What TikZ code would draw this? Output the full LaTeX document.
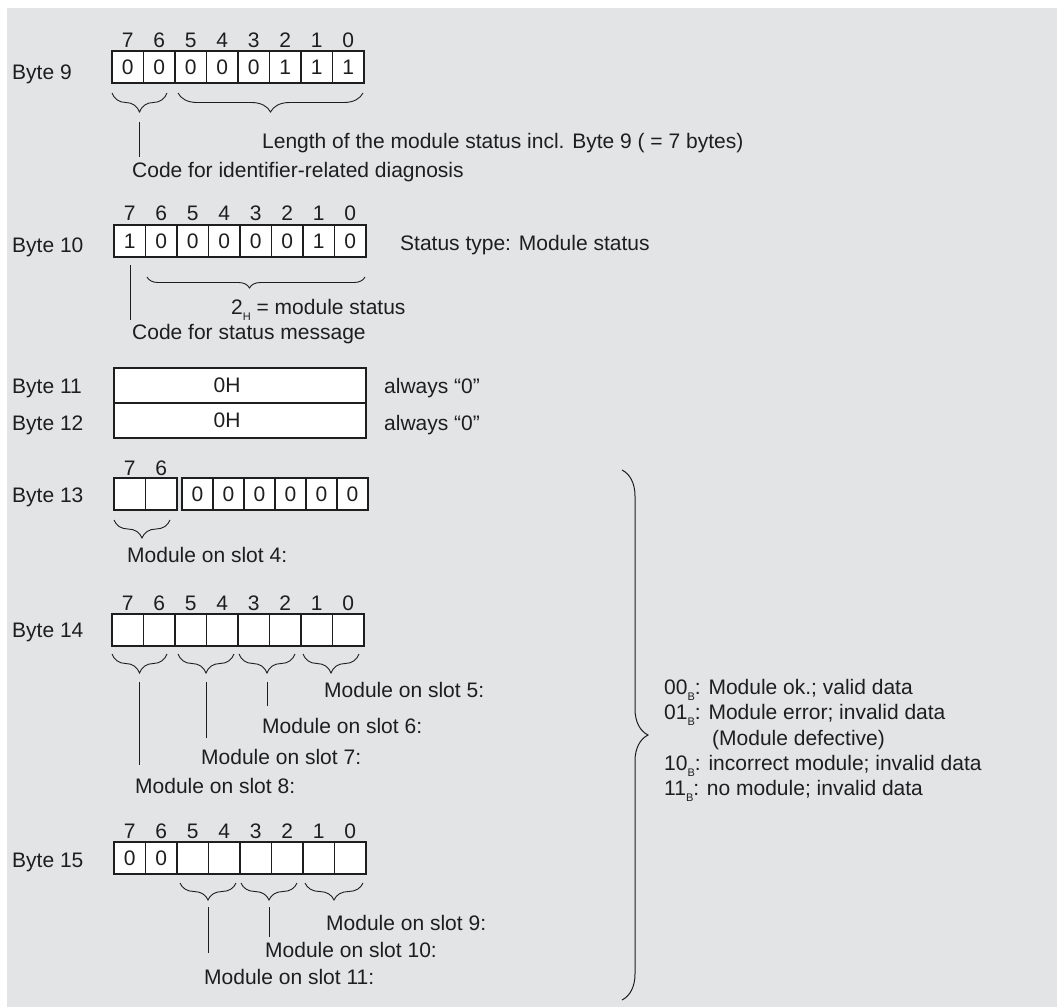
\documentclass[tikz,border=0pt]{standalone}
\usepackage{fontspec}
\setmainfont{Liberation Sans}
\usetikzlibrary{decorations.pathreplacing}
\definecolor{bg}{RGB}{227,228,230}
\definecolor{ink}{RGB}{30,30,30}
\newcommand\sbs[1]{\raisebox{-6pt}{\fontsize{11}{11}\selectfont #1}}
\tikzset{
  cell/.style={draw=ink, line width=1.2pt, fill=white, minimum width=31.5pt, minimum height=32pt, inner sep=0pt, outer sep=0pt, text=ink},
  cellb/.style={cell, minimum width=31pt},
  wide/.style={draw=ink, line width=1.2pt, fill=white, minimum width=252pt, minimum height=35pt, inner sep=0pt, outer sep=0pt},
  bitnum/.style={inner sep=0pt, text=ink},
  lbl/.style={anchor=base west, inner sep=0pt, text=ink},
  brc/.style={draw=ink, line width=0.9pt, decorate, decoration={brace, mirror, amplitude=#1}},
  lead/.style={draw=ink, line width=1pt}
}
\begin{document}
\begin{tikzpicture}[x=1pt, y=-1pt, font=\fontsize{21}{25}\selectfont]
\fill[white] (0,0) rectangle (1057,1007);
\fill[bg] (7,8) rectangle (1057,1007);
\useasboundingbox (0,0) rectangle (1057,1007);

% ---------- Byte 9
\node[lbl] (l9) at (12,79) {Byte 9};
\foreach \b [count=\i from 0] in {7,6,5,4,3,2,1,0}
  \node[bitnum] (n9\i) at ({112+31.5*\i+15.75},40) {\b};
\foreach \v [count=\i from 0] in {0,0,0,0,0,1,1,1}
  \node[cell] (c9\i) at ({112+31.5*\i+15.75},67) {\v};
\draw[brc=19] (112,93) -- (167,93);
\draw[brc=19] (178,93) -- (363,93);
\coordinate (t9a) at (139,122);
\coordinate (e9a) at (139,157);
\draw[lead] (t9a) -- (e9a);
\node[lbl] (len) at (262,148.5) {Length of the module status incl. Byte 9 ( = 7 bytes)};
\node[lbl] (cid) at (132,177) {Code for identifier-related diagnosis};

% ---------- Byte 10
\node[lbl] (l10) at (12,252) {Byte 10};
\foreach \b [count=\i from 0] in {7,6,5,4,3,2,1,0}
  \node[bitnum] (n10\i) at ({114+31.5*\i+15.75},213) {\b};
\foreach \v [count=\i from 0] in {1,0,0,0,0,0,1,0}
  \node[cell] (c10\i) at ({114+31.5*\i+15.75},241) {\v};
\node[lbl] (stt) at (400,250) {Status type: Module status};
\draw[draw=ink, line width=0.9pt, decorate, decoration={brace, mirror, amplitude=11, aspect=0.47}] (147,277) -- (365,277);
\coordinate (t10a) at (130,265);
\coordinate (e10a) at (130,320);
\draw[lead] (t10a) -- (e10a);
\node[lbl] (two) at (231,314) {2\sbs{H} = module status};
\node[lbl] (csm) at (132,339) {Code for status message};

% ---------- Byte 11 / 12
\node[lbl] (l11) at (12,393.5) {Byte 11};
\node[wide] (w11) at (240,385.5) {};
\node[bitnum] (h11) at (227,385.5) {0H};
\node[lbl] (a11) at (384,393.5) {always “0”};
\node[lbl] (l12) at (12,430) {Byte 12};
\node[wide] (w12) at (240,420.5) {};
\node[bitnum] (h12) at (227,420.5) {0H};
\node[lbl] (a12) at (384,430) {always “0”};

% ---------- Byte 13
\node[lbl] (l13) at (12,502) {Byte 13};
\foreach \b [count=\i from 0] in {7,6}
  \node[bitnum] (n13\i) at ({114+31.5*\i+15.75},468) {\b};
\foreach \i in {0,1}
  \node[cell] (c13\i) at ({114+31.5*\i+15.75},494) {};
\foreach \i in {0,...,5}
  \node[cellb] (d13\i) at ({182+31*\i+15.5},494) {0};
\draw[brc=18] (114,520) -- (170,520);
\node[lbl] (s4) at (127,562) {Module on slot 4:};

% ---------- Byte 14
\node[lbl] (l14) at (12,637) {Byte 14};
\foreach \b [count=\i from 0] in {7,6,5,4,3,2,1,0}
  \node[bitnum] (n14\i) at ({112+31.5*\i+15.75},603) {\b};
\foreach \i in {0,...,7}
  \node[cell] (c14\i) at ({112+31.5*\i+15.75},630) {};
\draw[brc=19] (112,654) -- (167,654);
\draw[brc=19] (178,654) -- (234,654);
\draw[brc=19] (239,654) -- (295,654);
\draw[brc=19] (303,654) -- (359,654);
\coordinate (t14a) at (139.5,682);
\coordinate (e14a) at (139.5,765);
\coordinate (t14b) at (206,682);
\coordinate (e14b) at (206,738);
\coordinate (t14c) at (267,682);
\coordinate (e14c) at (267,706);
\draw[lead] (t14a) -- (e14a);
\draw[lead] (t14b) -- (e14b);
\draw[lead] (t14c) -- (e14c);
\node[lbl] (s5) at (324,697) {Module on slot 5:};
\node[lbl] (s6) at (262,733) {Module on slot 6:};
\node[lbl] (s7) at (201,764) {Module on slot 7:};
\node[lbl] (s8) at (135,793) {Module on slot 8:};

% ---------- Byte 15
\node[lbl] (l15) at (12,867) {Byte 15};
\foreach \b [count=\i from 0] in {7,6,5,4,3,2,1,0}
  \node[bitnum] (n15\i) at ({114+31.5*\i+15.75},831) {\b};
\foreach \v [count=\i from 0] in {0,0,{},{},{},{},{},{}}
  \node[cell] (c15\i) at ({114+31.5*\i+15.75},858) {\v};
\draw[brc=17] (180,883) -- (236,883);
\draw[brc=17] (241,883) -- (297,883);
\draw[brc=17] (305,883) -- (363,883);
\coordinate (t15a) at (208,907);
\coordinate (e15a) at (208,953);
\coordinate (t15b) at (269,907);
\coordinate (e15b) at (269,937);
\draw[lead] (t15a) -- (e15a);
\draw[lead] (t15b) -- (e15b);
\node[lbl] (s9) at (326,930) {Module on slot 9:};
\node[lbl] (s10) at (265,957) {Module on slot 10:};
\node[lbl] (s11) at (204,984) {Module on slot 11:};

% ---------- big brace and legend
\draw[draw=ink, line width=1pt, decorate, decoration={brace, amplitude=26}] (622,470) -- (622,1000);
\node[lbl] (g1) at (664,694) {00\sbs{B}: Module ok.; valid data};
\node[lbl] (g2) at (664,719) {01\sbs{B}: Module error; invalid data};
\node[lbl] (g3) at (712,745) {(Module defective)};
\node[lbl] (g4) at (664,770) {10\sbs{B}: incorrect module; invalid data};
\node[lbl] (g5) at (664,795) {11\sbs{B}: no module; invalid data};
\end{tikzpicture}
\end{document}
